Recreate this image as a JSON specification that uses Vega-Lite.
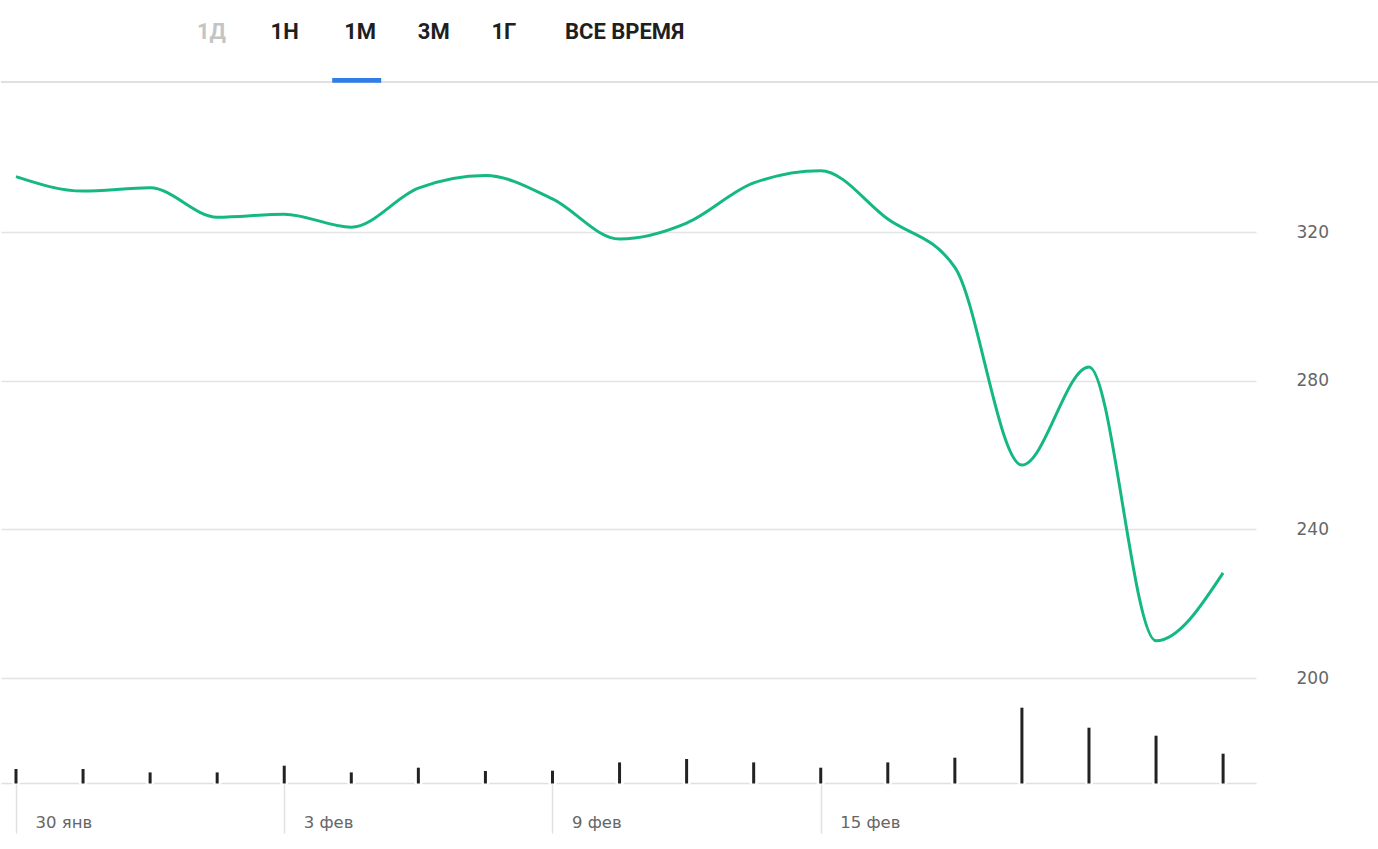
{
  "$schema": "https://vega.github.io/schema/vega-lite/v6.json",
  "padding": 0,
  "spacing": 0,
  "bounds": "flush",
  "background": "white",
  "config": {"view": {"stroke": null}},
  "datasets": {
    "tabs": [
      {"tab": "1Д", "state": "disabled"},
      {"tab": "1Н", "state": "normal"},
      {"tab": "1М", "state": "active"},
      {"tab": "3М", "state": "normal"},
      {"tab": "1Г", "state": "normal"},
      {"tab": "ВСЕ ВРЕМЯ", "state": "normal"}
    ],
    "prices": [
      {"d": "30 янв", "price": 334.9, "vol": 1400},
      {"d": "31 янв", "price": 331.0, "vol": 1400},
      {"d": "1 фев", "price": 331.9, "vol": 1060},
      {"d": "2 фев", "price": 324.0, "vol": 1060},
      {"d": "3 фев", "price": 324.8, "vol": 1730},
      {"d": "4 фев", "price": 321.3, "vol": 1060},
      {"d": "5 фев", "price": 331.8, "vol": 1530},
      {"d": "6 фев", "price": 335.2, "vol": 1200},
      {"d": "9 фев", "price": 328.9, "vol": 1230},
      {"d": "10 фев", "price": 318.1, "vol": 2060},
      {"d": "11 фев", "price": 322.4, "vol": 2400},
      {"d": "12 фев", "price": 333.2, "vol": 2060},
      {"d": "15 фев", "price": 336.5, "vol": 1530},
      {"d": "16 фев", "price": 323.5, "vol": 2060},
      {"d": "17 фев", "price": 310.5, "vol": 2530},
      {"d": "18 фев", "price": 257.3, "vol": 7530},
      {"d": "19 фев", "price": 283.7, "vol": 5530},
      {"d": "22 фев", "price": 210.0, "vol": 4730},
      {"d": "23 фев", "price": 228.3, "vol": 2930}
    ]
  },
  "vconcat": [
    {
      "width": 1378,
      "height": 82,
      "data": {"name": "tabs"},
      "encoding": {
        "x": {"field": "tab", "type": "ordinal", "sort": null, "scale": {"type": "point", "domain": ["1Д", "1Н", "1М", "3М", "1Г", "ВСЕ ВРЕМЯ"], "range": [196, 564], "padding": 0}, "axis": null}
      },
      "layer": [
        {
          "mark": {"type": "rule", "color": "#e0e0e0", "strokeWidth": 1.2},
          "encoding": {
            "x": null,
            "y": {"datum": 0, "type": "quantitative", "scale": {"domain": [0, 1]}, "axis": null}
          }
        },
        {
          "transform": [{"filter": "datum.state === 'active'"}],
          "mark": {"type": "bar", "color": "#2f7de6", "width": 49, "xOffset": 12.5},
          "encoding": {
            "y": {"datum": -0.008, "type": "quantitative", "scale": {"domain": [0, 1]}, "axis": null},
            "y2": {"datum": 0.05}
          }
        },
        {
          "mark": {"type": "text", "align": "left", "baseline": "middle", "font": "Roboto", "fontWeight": "bold", "fontSize": 22},
          "encoding": {
            "text": {"field": "tab"},
            "y": {"datum": 0.605, "type": "quantitative", "scale": {"domain": [0, 1]}, "axis": null},
            "color": {"field": "state", "type": "nominal", "scale": {"domain": ["disabled", "normal", "active"], "range": ["#c4c4c4", "#1f1f1f", "#1f1f1f"]}, "legend": null}
          }
        }
      ]
    },
    {
      "width": 1255,
      "height": 701,
      "data": {"name": "prices"},
      "encoding": {
        "x": {
          "field": "d",
          "type": "ordinal",
          "sort": null,
          "scale": {"type": "point", "padding": 0.357, "align": 0.313},
          "axis": {
            "title": null,
            "values": ["30 янв", "3 фев", "9 фев", "15 фев"],
            "labelAngle": 0,
            "domainColor": "#e0e0e0",
            "domainWidth": 1.5,
            "tickColor": "#e0e0e0",
            "tickWidth": 1.5,
            "tickSize": 50,
            "labelAlign": "left",
            "labelBaseline": "alphabetic",
            "labelPadding": -6,
            "labelOffset": 19,
            "labelFont": "DejaVu Sans",
            "labelFontSize": 16.5,
            "labelColor": "#666666",
            "grid": false
          }
        }
      },
      "layer": [
        {
          "mark": {"type": "rule", "color": "white", "strokeWidth": 8},
          "encoding": {
            "y": {"field": "vol", "type": "quantitative", "scale": {"domain": [0, 70100]}, "axis": null},
            "y2": {"datum": -150}
          }
        },
        {
          "mark": {"type": "rule", "color": "#222222", "strokeWidth": 3},
          "encoding": {
            "y": {"field": "vol", "type": "quantitative", "scale": {"domain": [0, 70100]}, "axis": null},
            "y2": {"datum": -50}
          }
        },
        {
          "mark": {"type": "line", "interpolate": "monotone", "color": "#15b884", "strokeWidth": 3},
          "encoding": {
            "y": {
              "field": "price",
              "type": "quantitative",
              "scale": {"domain": [171.75, 360.36], "nice": false, "zero": false},
              "axis": {
                "orient": "right",
                "title": null,
                "values": [200, 240, 280, 320],
                "grid": true,
                "gridColor": "#e3e3e3",
                "gridWidth": 1.5,
                "domain": false,
                "ticks": false,
                "labelPadding": 40,
                "labelBaseline": "middle",
                "labelFont": "DejaVu Sans",
                "labelFontSize": 17,
                "labelColor": "#666666"
              }
            }
          }
        }
      ],
      "resolve": {"scale": {"y": "independent"}}
    }
  ]
}
